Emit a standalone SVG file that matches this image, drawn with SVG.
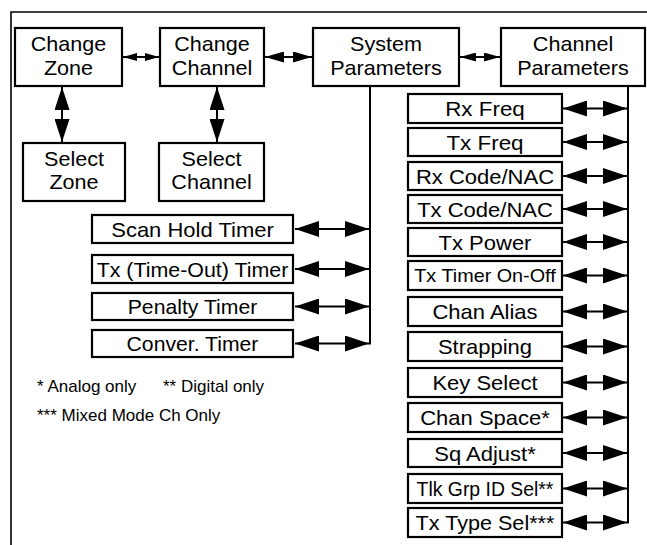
<svg xmlns="http://www.w3.org/2000/svg" width="647" height="545" viewBox="0 0 647 545">
<style>
.box{fill:#fff;stroke:#000;stroke-width:2.2}
.t{font-family:"Liberation Sans",Arial,Helvetica,sans-serif;font-size:20px;text-anchor:middle;fill:#000}
.sm{font-size:18px}
.lg{font-family:"Liberation Sans",Arial,Helvetica,sans-serif;font-size:17px;fill:#000}
.c line{stroke:#000;stroke-width:2;fill:none}
.frame{stroke:#000;stroke-width:1.6;fill:none}
</style>
<defs>
<marker id="a1" markerUnits="userSpaceOnUse" markerWidth="14" markerHeight="8" refX="14" refY="4" orient="auto-start-reverse"><path d="M0,0 L14,4 L0,8 z" fill="#000"/></marker>
<marker id="a2" markerUnits="userSpaceOnUse" markerWidth="19" markerHeight="11" refX="19" refY="5.5" orient="auto-start-reverse"><path d="M0,0 L19,5.5 L0,11 z" fill="#000"/></marker>
<marker id="a3" markerUnits="userSpaceOnUse" markerWidth="16" markerHeight="9" refX="16" refY="4.5" orient="auto-start-reverse"><path d="M0,0 L16,4.5 L0,9 z" fill="#000"/></marker>
<marker id="a4" markerUnits="userSpaceOnUse" markerWidth="24" markerHeight="16" refX="24" refY="8" orient="auto-start-reverse"><path d="M0,0 L24,8 L0,16 z" fill="#000"/></marker>
<marker id="a5" markerUnits="userSpaceOnUse" markerWidth="23" markerHeight="15" refX="23" refY="7.5" orient="auto-start-reverse"><path d="M0,0 L23,7.5 L0,15 z" fill="#000"/></marker>
</defs>
<rect width="647" height="545" fill="#fff"/>
<path class="frame" d="M11,545 V12 H647"/>

<g id="connectors" class="c">
<line x1="123" y1="57" x2="159" y2="57" marker-start="url(#a1)" marker-end="url(#a1)"/>
<line x1="265" y1="57" x2="312" y2="57" marker-start="url(#a2)" marker-end="url(#a2)"/>
<line x1="460" y1="57" x2="500" y2="57" marker-start="url(#a3)" marker-end="url(#a3)"/>
<line x1="62" y1="87" x2="62" y2="142" marker-start="url(#a5)" marker-end="url(#a5)"/>
<line x1="217" y1="87" x2="217" y2="142" marker-start="url(#a5)" marker-end="url(#a5)"/>
<line x1="370" y1="86" x2="370" y2="344.5"/>
<line x1="295" y1="229" x2="369" y2="229" marker-start="url(#a4)" marker-end="url(#a4)"/>
<line x1="295" y1="269" x2="369" y2="269" marker-start="url(#a4)" marker-end="url(#a4)"/>
<line x1="295" y1="306.5" x2="369" y2="306.5" marker-start="url(#a4)" marker-end="url(#a4)"/>
<line x1="295" y1="343.5" x2="369" y2="343.5" marker-start="url(#a4)" marker-end="url(#a4)"/>
<line x1="628" y1="86" x2="628" y2="523.5"/>
<line x1="563" y1="108.5" x2="627" y2="108.5" marker-start="url(#a4)" marker-end="url(#a4)"/>
<line x1="563" y1="142" x2="627" y2="142" marker-start="url(#a4)" marker-end="url(#a4)"/>
<line x1="563" y1="176" x2="627" y2="176" marker-start="url(#a4)" marker-end="url(#a4)"/>
<line x1="563" y1="209" x2="627" y2="209" marker-start="url(#a4)" marker-end="url(#a4)"/>
<line x1="563" y1="242" x2="627" y2="242" marker-start="url(#a4)" marker-end="url(#a4)"/>
<line x1="563" y1="275.5" x2="627" y2="275.5" marker-start="url(#a4)" marker-end="url(#a4)"/>
<line x1="563" y1="311.5" x2="627" y2="311.5" marker-start="url(#a4)" marker-end="url(#a4)"/>
<line x1="563" y1="346.5" x2="627" y2="346.5" marker-start="url(#a4)" marker-end="url(#a4)"/>
<line x1="563" y1="382.5" x2="627" y2="382.5" marker-start="url(#a4)" marker-end="url(#a4)"/>
<line x1="563" y1="417.5" x2="627" y2="417.5" marker-start="url(#a4)" marker-end="url(#a4)"/>
<line x1="563" y1="453" x2="627" y2="453" marker-start="url(#a4)" marker-end="url(#a4)"/>
<line x1="563" y1="488.5" x2="627" y2="488.5" marker-start="url(#a4)" marker-end="url(#a4)"/>
<line x1="563" y1="522.5" x2="627" y2="522.5" marker-start="url(#a4)" marker-end="url(#a4)"/>
</g>

<g id="change-zone"><rect class="box" x="15" y="28" width="107" height="58"/>
<text class="t" transform="translate(68.5 51) scale(1.08 1)">Change</text>
<text class="t" transform="translate(68.5 75) scale(1.08 1)">Zone</text></g>
<g id="change-channel"><rect class="box" x="160" y="28" width="104" height="58"/>
<text class="t" transform="translate(212 51) scale(1.08 1)">Change</text>
<text class="t" transform="translate(212 75) scale(1.08 1)">Channel</text></g>
<g id="system-parameters"><rect class="box" x="313" y="28" width="146" height="58"/>
<text class="t" transform="translate(386 51) scale(1.08 1)">System</text>
<text class="t" transform="translate(386 75) scale(1.08 1)">Parameters</text></g>
<g id="channel-parameters"><rect class="box" x="501" y="28" width="144" height="58"/>
<text class="t" transform="translate(573 51) scale(1.08 1)">Channel</text>
<text class="t" transform="translate(573 75) scale(1.08 1)">Parameters</text></g>
<g id="select-zone"><rect class="box" x="23" y="143" width="102" height="58"/>
<text class="t" transform="translate(74 166) scale(1.08 1)">Select</text>
<text class="t" transform="translate(74 189) scale(1.08 1)">Zone</text></g>
<g id="select-channel"><rect class="box" x="159" y="143" width="105" height="58"/>
<text class="t" transform="translate(211.5 166) scale(1.08 1)">Select</text>
<text class="t" transform="translate(211.5 189) scale(1.08 1)">Channel</text></g>

<g id="scan-hold-timer"><rect class="box" x="92" y="215" width="201" height="28"/>
<text class="t" transform="translate(192.5 236.5) scale(1.1 1)">Scan Hold Timer</text></g>
<g id="tx-timeout-timer"><rect class="box" x="92" y="255" width="201" height="28"/>
<text class="t" transform="translate(192.5 276.5) scale(1.07 1)">Tx (Time-Out) Timer</text></g>
<g id="penalty-timer"><rect class="box" x="92" y="293" width="201" height="27"/>
<text class="t" transform="translate(192.5 314) scale(1.06 1)">Penalty Timer</text></g>
<g id="conver-timer"><rect class="box" x="92" y="330" width="201" height="27"/>
<text class="t" transform="translate(192.5 351) scale(1.06 1)">Conver. Timer</text></g>

<g id="rx-freq"><rect class="box" x="408" y="94" width="154" height="29"/>
<text class="t" transform="translate(485 116) scale(1.12 1)">Rx Freq</text></g>
<g id="tx-freq"><rect class="box" x="408" y="128" width="154" height="28"/>
<text class="t" transform="translate(485 149.5) scale(1.12 1)">Tx Freq</text></g>
<g id="rx-code"><rect class="box" x="408" y="162" width="154" height="28"/>
<text class="t" transform="translate(485 183.5) scale(1.1 1)">Rx Code/NAC</text></g>
<g id="tx-code"><rect class="box" x="408" y="195" width="154" height="28"/>
<text class="t" transform="translate(485 216.5) scale(1.1 1)">Tx Code/NAC</text></g>
<g id="tx-power"><rect class="box" x="408" y="228" width="154" height="28"/>
<text class="t" transform="translate(485 249.5) scale(1.1 1)">Tx Power</text></g>
<g id="tx-timer-onoff"><rect class="box" x="408" y="261" width="154" height="29"/>
<text class="t sm" transform="translate(485 282) scale(1.1 1)">Tx Timer On-Off</text></g>
<g id="chan-alias"><rect class="box" x="408" y="297" width="154" height="29"/>
<text class="t" transform="translate(485 319) scale(1.1 1)">Chan Alias</text></g>
<g id="strapping"><rect class="box" x="408" y="332" width="154" height="29"/>
<text class="t" transform="translate(485 354) scale(1.1 1)">Strapping</text></g>
<g id="key-select"><rect class="box" x="408" y="368" width="154" height="29"/>
<text class="t" transform="translate(485 390) scale(1.1 1)">Key Select</text></g>
<g id="chan-space"><rect class="box" x="408" y="403" width="154" height="29"/>
<text class="t" transform="translate(485 425) scale(1.1 1)">Chan Space*</text></g>
<g id="sq-adjust"><rect class="box" x="408" y="439" width="154" height="28"/>
<text class="t" transform="translate(485 460.5) scale(1.1 1)">Sq Adjust*</text></g>
<g id="tlk-grp"><rect class="box" x="408" y="474" width="154" height="29"/>
<text class="t" transform="translate(485 496) scale(0.97 1)">Tlk Grp ID Sel**</text></g>
<g id="tx-type"><rect class="box" x="408" y="508" width="154" height="29"/>
<text class="t" transform="translate(485 530) scale(1.08 1)">Tx Type Sel***</text></g>

<g id="legend">
<text class="lg" x="37" y="392">* Analog only</text>
<text class="lg" x="163" y="392">** Digital only</text>
<text class="lg" x="37" y="421">*** Mixed Mode Ch Only</text>
</g>
</svg>
